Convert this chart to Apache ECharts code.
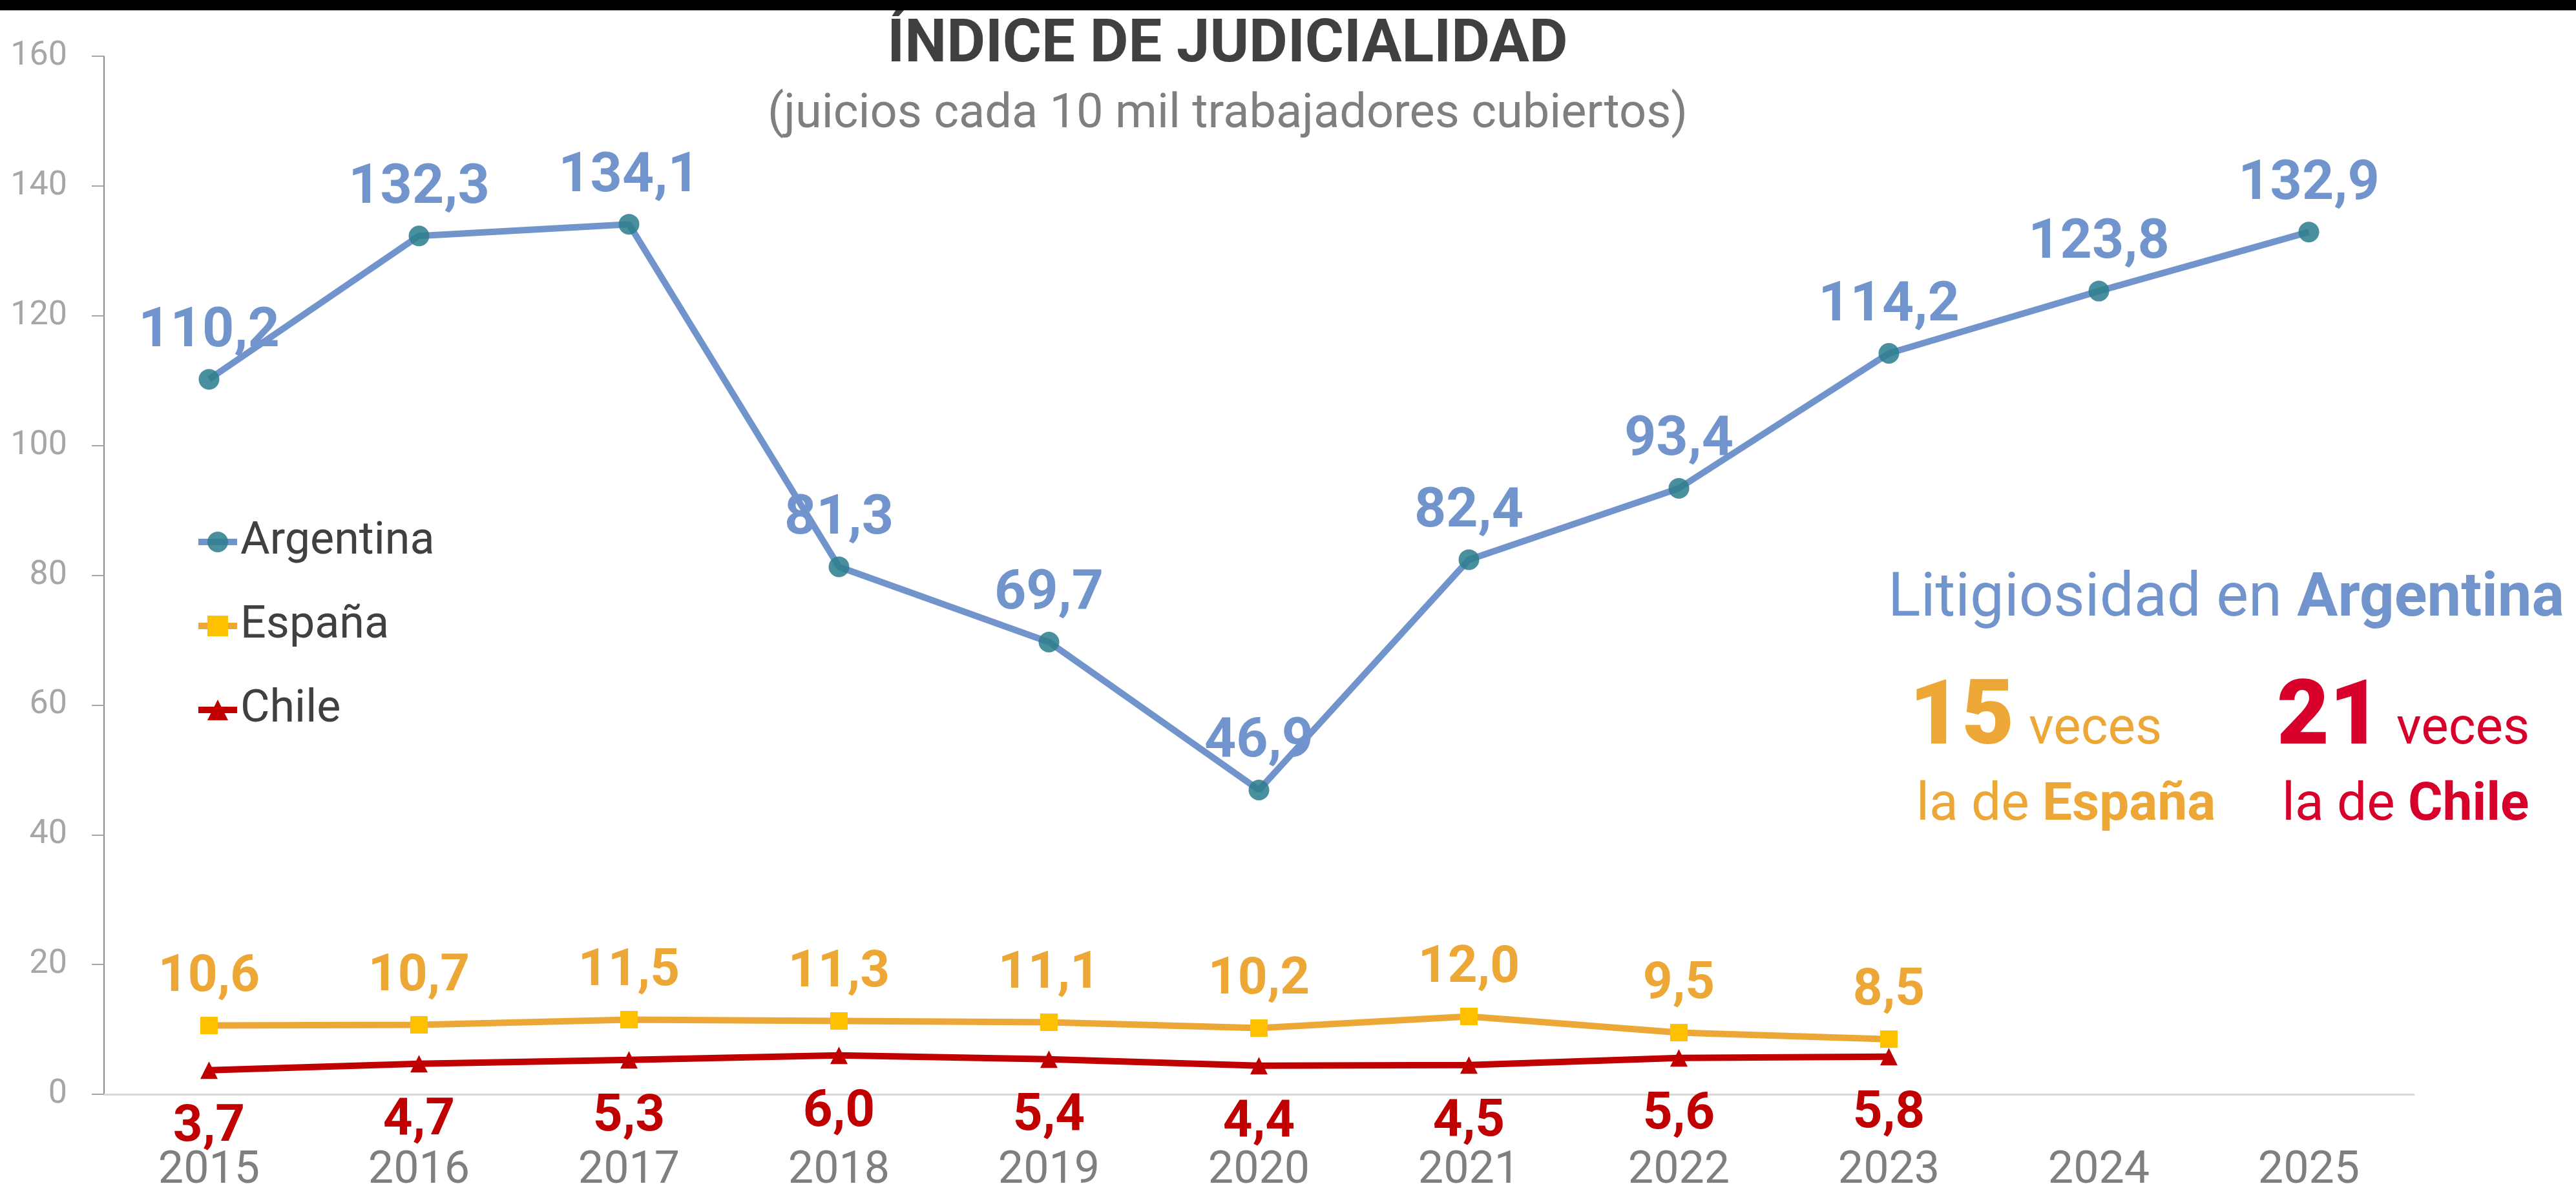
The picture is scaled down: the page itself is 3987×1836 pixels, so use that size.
<!DOCTYPE html>
<html>
<head>
<meta charset="utf-8">
<script src="https://cdn.jsdelivr.net/npm/echarts@6/dist/echarts.min.js"></script>
<style>
  html, body { margin: 0; padding: 0; background: #fff; }
  #chart { width: 3987px; height: 1836px; }
  #topbar { position: absolute; left: 0; top: 0; width: 3987px; height: 16px; background: #000; z-index: 2; }
</style>
</head>
<body>
<div id="topbar"></div>
<div id="chart"></div>
<script>
var years = ['2015', '2016', '2017', '2018', '2019', '2020', '2021', '2022', '2023', '2024', '2025'];
var argentina = [110.2, 132.3, 134.1, 81.3, 69.7, 46.9, 82.4, 93.4, 114.2, 123.8, 132.9];
var espana = [10.6, 10.7, 11.5, 11.3, 11.1, 10.2, 12.0, 9.5, 8.5];
var chile = [3.7, 4.7, 5.3, 6.0, 5.4, 4.4, 4.5, 5.6, 5.8];

var FONT = 'Roboto';
var BLUE = '#7094cb';
var ORANGE = '#eda737';
var RED = '#c00000';
var RED2 = '#d7002a';

function fmt(p) {
    return p.value.toFixed(1).replace('.', ',');
}

var chart = echarts.init(document.getElementById('chart'));

chart.setOption({
    backgroundColor: '#fff',
    textStyle: { fontFamily: FONT },
    legend: {
        orient: 'vertical',
        left: 297,
        top: 799,
        itemWidth: 60,
        itemHeight: 40,
        itemGap: 60,
        lineStyle: { width: 10 },
        textStyle: { fontFamily: FONT, fontSize: 70, color: '#404040' },
        data: ['Argentina', 'España', 'Chile']
    },
    grid: { left: 161, right: 251, top: 87, bottom: 142, containLabel: false, outerBoundsMode: 'none' },
    xAxis: {
        type: 'category',
        data: years,
        axisLine: { lineStyle: { color: '#d9d9d9', width: 3 } },
        axisTick: { show: false },
        axisLabel: { fontFamily: FONT, fontSize: 70, color: '#7f7f7f', margin: 84 }
    },
    yAxis: {
        type: 'value',
        min: 0,
        max: 160,
        interval: 20,
        axisLine: { show: true, lineStyle: { color: '#8c8c8c', width: 2 } },
        axisTick: { show: true, length: 19, lineStyle: { color: '#a6a6a6', width: 2 } },
        splitLine: { show: false },
        axisLabel: { fontFamily: FONT, fontSize: 52, color: '#a6a6a6', margin: 57 }
    },
    series: [{
        name: 'Argentina',
        type: 'line',
        data: argentina,
        symbol: 'circle',
        symbolSize: 32,
        lineStyle: { color: BLUE, width: 10 },
        itemStyle: { color: 'rgba(46,126,143,0.87)' },
        label: {
            show: true, position: 'top', distance: 14, formatter: fmt,
            fontFamily: FONT, fontSize: 86, fontWeight: 'bold', color: BLUE
        },
        z: 3
    }, {
        name: 'España',
        type: 'line',
        data: espana,
        symbol: 'rect',
        symbolSize: 27,
        lineStyle: { color: ORANGE, width: 10 },
        itemStyle: { color: '#ffc000' },
        label: {
            show: true, position: 'top', distance: 20, formatter: fmt,
            fontFamily: FONT, fontSize: 80, fontWeight: 'bold', color: ORANGE
        },
        z: 2
    }, {
        name: 'Chile',
        type: 'line',
        data: chile,
        symbol: 'triangle',
        symbolSize: [27, 27],
        lineStyle: { color: RED, width: 10 },
        itemStyle: { color: RED },
        label: {
            show: true, position: 'bottom', distance: 36, formatter: fmt,
            fontFamily: FONT, fontSize: 80, fontWeight: 'bold', color: RED
        },
        z: 2
    }],
    graphic: [{
        type: 'text', x: 1900, y: 72,
        style: {
            text: 'ÍNDICE DE JUDICIALIDAD', font: 'bold 92px Roboto', fill: '#404040',
            align: 'center', verticalAlign: 'middle'
        }
    }, {
        type: 'text', x: 1900, y: 178,
        style: {
            text: '(juicios cada 10 mil trabajadores cubiertos)', font: '74px Roboto', fill: '#7f7f7f',
            align: 'center', verticalAlign: 'middle'
        }
    }, {
        type: 'text', x: 2922, y: 929,
        style: {
            text: '{n|Litigiosidad en }{b|Argentina}',
            verticalAlign: 'middle',
            rich: {
                n: { font: '94px Roboto', fill: BLUE },
                b: { font: 'bold 94px Roboto', fill: BLUE }
            }
        }
    }, {
        type: 'text', x: 2955, y: 1116,
        style: { text: '15', font: '900 140px Roboto', fill: ORANGE, verticalAlign: 'middle' }
    }, {
        type: 'text', x: 3140, y: 1131,
        style: { text: 'veces', font: '80px Roboto', fill: ORANGE, verticalAlign: 'middle' }
    }, {
        type: 'text', x: 2966, y: 1248,
        style: {
            text: '{n|la de }{b|España}',
            verticalAlign: 'middle',
            rich: {
                n: { font: '82px Roboto', fill: ORANGE },
                b: { font: 'bold 82px Roboto', fill: ORANGE }
            }
        }
    }, {
        type: 'text', x: 3524, y: 1116,
        style: { text: '21', font: '900 140px Roboto', fill: RED2, verticalAlign: 'middle' }
    }, {
        type: 'text', x: 3709, y: 1131,
        style: { text: 'veces', font: '80px Roboto', fill: RED2, verticalAlign: 'middle' }
    }, {
        type: 'text', x: 3532, y: 1248,
        style: {
            text: '{n|la de }{b|Chile}',
            verticalAlign: 'middle',
            rich: {
                n: { font: '82px Roboto', fill: RED2 },
                b: { font: 'bold 82px Roboto', fill: RED2 }
            }
        }
    }]
});
</script>
</body>
</html>
